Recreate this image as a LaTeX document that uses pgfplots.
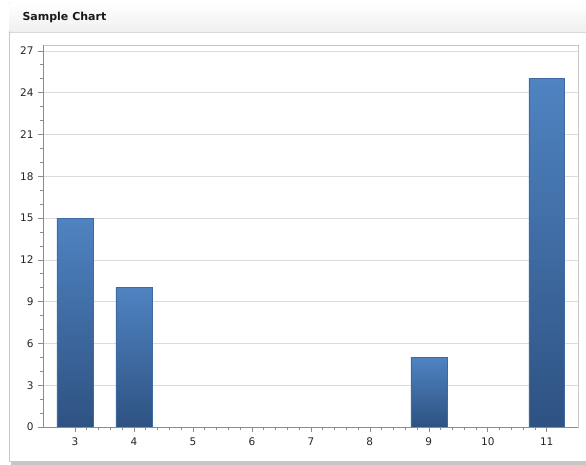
\documentclass[border=0pt]{standalone}
\usepackage{fontspec}
\setmainfont{DejaVu Sans}
\usepackage{pgfplots}
\pgfplotsset{compat=1.18}
\definecolor{bartop}{HTML}{4F83C1}
\definecolor{barbot}{HTML}{2E5282}
\definecolor{baredge}{HTML}{3D6AA3}
\tikzset{mybar/.style={ybar, bar width=0.61, draw=baredge, line width=0.5pt, top color=bartop, bottom color=barbot}}
\begin{document}
\begin{tikzpicture}[x=1pt,y=1pt]
\useasboundingbox (0,0) rectangle (586,465);
% panel shadow and frame
\fill[black!22] (11,0) rectangle (592,460);
\fill[white] (9,4) rectangle (590,462);
\draw[black!22] (9,4) rectangle (590,462);
\shade[top color=white, bottom color=black!6] (9.5,433) rectangle (589.5,461.5);
\draw[black!15] (9.5,433) -- (589.5,433);
\node[anchor=west, font=\fontsize{11}{13}\selectfont\bfseries, text=black!90] at (19,447.5) {Sample Chart};
\begin{axis}[
  at={(43pt,38pt)}, anchor=south west,
  scale only axis, width=535pt, height=382pt,
  xmin=2.458, xmax=11.53, ymin=0, ymax=27.42,
  xtick={3,...,11}, ytick={0,3,...,27},
  minor x tick num=4, minor y tick num=2,
  xtick pos=bottom, ytick pos=left,
  tick align=outside,
  major tick length=5pt, minor tick length=3pt,
  tick style={black!45, line width=0.6pt},
  axis line style={black!22},
  ymajorgrids, major grid style={black!14, line width=0.6pt},
  ticklabel style={font=\fontsize{10.5}{12}\selectfont, text=black!85},
  /pgf/number format/assume math mode=true,
  yticklabel style={xshift=-1pt},
  xticklabel style={yshift=-2pt},
  clip=false,
]
\addplot[mybar] coordinates {(3,15)};
\addplot[mybar] coordinates {(4,10)};
\addplot[mybar] coordinates {(9,5)};
\addplot[mybar] coordinates {(11,25)};
\draw[black!45, line width=0.7pt] (axis cs:2.458,0) -- (axis cs:11.53,0);
\draw[black!45, line width=0.7pt] (axis cs:2.458,0) -- (axis cs:2.458,27.42);
\end{axis}
\end{tikzpicture}
\end{document}
